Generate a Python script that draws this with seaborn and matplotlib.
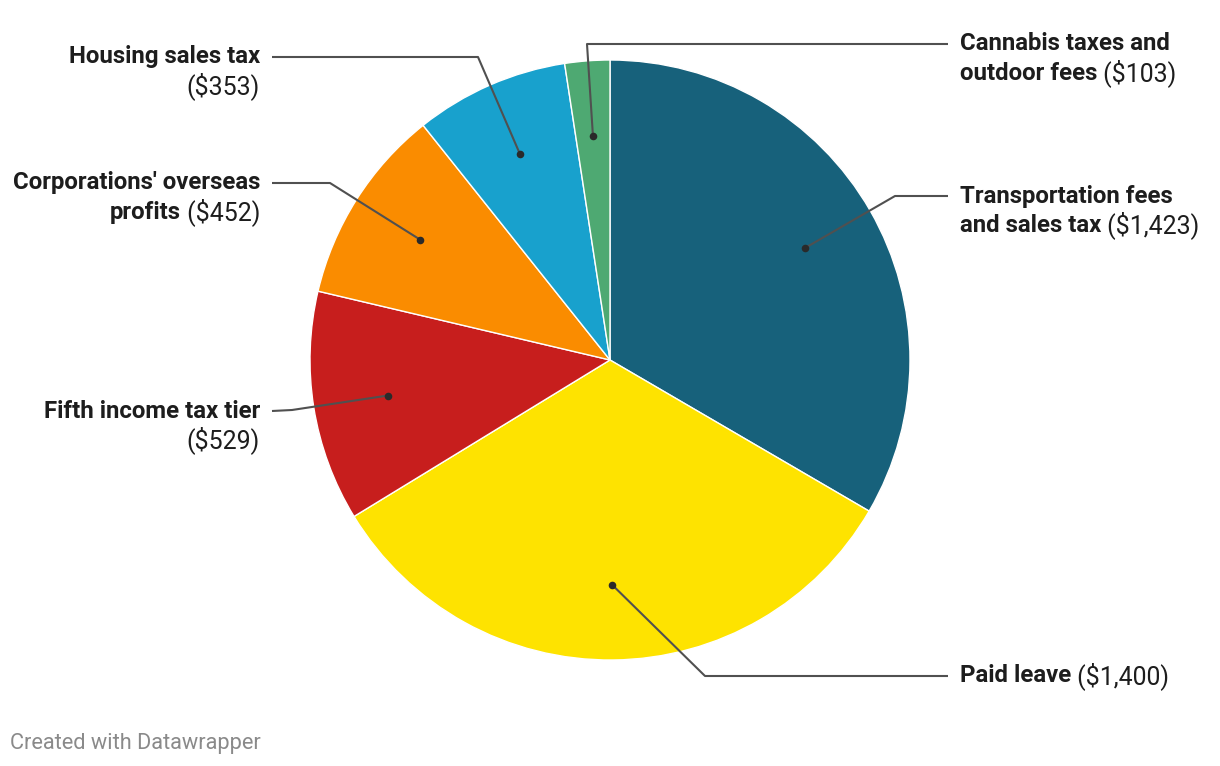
import matplotlib
matplotlib.use("Agg")
import matplotlib.pyplot as plt
import seaborn as sns
import numpy as np

sns.set_theme(style="white")
plt.rcParams['font.family'] = ['Roboto', 'DejaVu Sans']

categories = ["Transportation fees and sales tax", "Paid leave", "Fifth income tax tier",
              "Corporations' overseas profits", "Housing sales tax", "Cannabis taxes and outdoor fees"]
values = [1423, 1400, 529, 452, 353, 103]
value_labels = ["($1,423)", "($1,400)", "($529)", "($452)", "($353)", "($103)"]
colors = sns.color_palette(["#17617b", "#fee300", "#c71e1d", "#fa8c00", "#18a1cd", "#4ea972"])

label_lines = [
    [("Transportation fees", ""), ("and sales tax", " " + value_labels[0])],
    [("Paid leave", " " + value_labels[1])],
    [("Fifth income tax tier", ""), ("", value_labels[2])],
    [("Corporations' overseas", ""), ("profits", " " + value_labels[3])],
    [("Housing sales tax", ""), ("", value_labels[4])],
    [("Cannabis taxes and", ""), ("outdoor fees", " " + value_labels[5])],
]
sides = ["R", "R", "L", "L", "L", "R"]
label_y = [196, 676, 411, 183, 57, 44]
elbows = [(895, 196), (705, 676), (292, 410), (330, 183), (478, 57), (587, 44)]

W, H = 1220, 766
fig = plt.figure(figsize=(W / 100, H / 100), dpi=100)
ax = fig.add_axes([0, 0, 1, 1])

cx, cy, R = 610, 360, 300
Y = lambda y: H - y

wedges, _ = ax.pie(values, colors=colors, startangle=90, counterclock=False,
                   center=(cx, Y(cy)), radius=R, frame=True,
                   wedgeprops=dict(edgecolor="white", linewidth=1))
ax.set_xlim(0, W)
ax.set_ylim(0, H)
ax.set_aspect("equal")
ax.axis("off")

total = sum(values)
cum = 0
fsb = 17.3
fsr = 17.9
txtc = "#1d1d1d"
linec = "#505050"
renderer = fig.canvas.get_renderer()
for i, v in enumerate(values):
    mid = (cum + v / 2) / total
    cum += v
    ang = np.deg2rad(90 - mid * 360)
    dx = cx + 0.75 * R * np.cos(ang)
    dy = cy - 0.75 * R * np.sin(ang)
    ex, ey = elbows[i]
    if sides[i] == "R":
        lx_end = 948
        tx = 960
    else:
        lx_end = 272
        tx = 260
    ax.plot([dx, ex, lx_end], [Y(dy), Y(ey), Y(label_y[i])], color=linec, lw=1.5,
            solid_capstyle="butt", zorder=3)
    ax.scatter([dx], [Y(dy)], s=30, color="#2a2a2a", zorder=4, linewidths=0)
    for j, (bold, reg) in enumerate(label_lines[i]):
        yy = Y(label_y[i] + j * 29)
        if sides[i] == "R":
            x2 = tx
            if bold:
                t = ax.text(tx, yy, bold, fontsize=fsb, fontweight="bold", color=txtc,
                            ha="left", va="center")
                bb = t.get_window_extent(renderer)
                x2 = ax.transData.inverted().transform((bb.x1, 0))[0]
            if reg:
                ax.text(x2, yy, reg, fontsize=fsr, color=txtc, ha="left", va="center")
        else:
            x1 = tx
            if reg:
                t = ax.text(tx, yy, reg, fontsize=fsr, color=txtc, ha="right", va="center")
                bb = t.get_window_extent(renderer)
                x1 = ax.transData.inverted().transform((bb.x0, 0))[0]
            if bold:
                ax.text(x1, yy, bold, fontsize=fsb, fontweight="bold", color=txtc,
                        ha="right", va="center")

ax.text(10, Y(743), "Created with Datawrapper", fontsize=15.7, color="#8a8a8a",
        ha="left", va="center")

fig.savefig("out.png", dpi=100, facecolor="white")
